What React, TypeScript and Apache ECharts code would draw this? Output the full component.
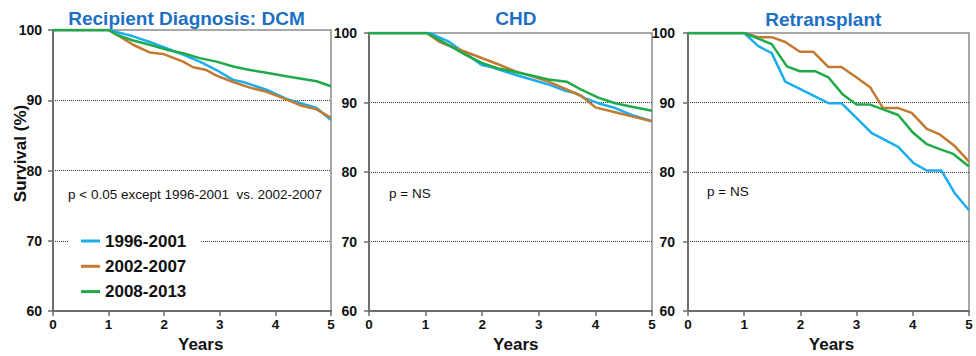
import React, { useEffect, useRef } from "react";
import * as echarts from "echarts";

// ---------- data ----------
const seriesNames = ["1996-2001", "2002-2007", "2008-2013"];
const panelTitles = ["Recipient Diagnosis: DCM", "CHD", "Retransplant"];
const pValueNotes = ["p < 0.05 except 1996-2001  vs. 2002-2007", "p = NS", "p = NS"];
const xTickValues = [0, 1, 2, 3, 4, 5];
const yTickValues = [60, 70, 80, 90, 100];
const xAxisTitle = "Years";
const yAxisTitle = "Survival (%)";

// [years, survival %]
const dcm1996 = [
  [0, 100], [1, 100], [1.44, 99.1], [1.74, 98.3], [2.04, 97.4], [2.34, 96.5], [2.64, 95.5],
  [2.94, 94.3], [3.24, 92.9], [3.42, 92.6], [3.84, 91.5], [4.2, 90.2], [4.44, 89.6],
  [4.74, 88.9], [5, 87.2],
];
const dcm2002 = [
  [0, 100], [1, 100], [1.2, 99.1], [1.44, 97.9], [1.74, 96.8], [1.98, 96.6], [2.34, 95.5],
  [2.52, 94.7], [2.76, 94.3], [2.94, 93.5], [3.24, 92.6], [3.54, 91.8], [3.84, 91.2],
  [4.14, 90.3], [4.44, 89.3], [4.74, 88.7], [5, 87.5],
];
const dcm2008 = [
  [0, 100], [1, 100], [1.15, 99.3], [1.44, 98.5], [1.74, 97.9], [2.04, 97.2], [2.34, 96.7],
  [2.64, 96.0], [2.94, 95.5], [3.24, 94.8], [3.54, 94.3], [3.84, 93.9], [4.14, 93.5],
  [4.44, 93.1], [4.74, 92.7], [5, 92.0],
];

const chd1996 = [
  [0, 100], [1.07, 100], [1.4, 98.8], [1.7, 97.1], [1.99, 95.4], [2.16, 95.1], [2.58, 94.0],
  [2.87, 93.3], [3.17, 92.6], [3.46, 91.7], [3.64, 91.4], [3.82, 90.6], [4.05, 89.9],
  [4.35, 89.2], [4.64, 88.2], [5, 87.3],
];
const chd2002 = [
  [0, 100], [1.02, 100], [1.23, 98.8], [1.4, 98.2], [1.7, 97.3], [1.99, 96.4], [2.28, 95.5],
  [2.58, 94.5], [2.87, 93.8], [3.17, 93.0], [3.46, 92.0], [3.76, 90.9], [4.0, 89.3],
  [4.35, 88.6], [4.64, 88.0], [5, 87.3],
];
const chd2008 = [
  [0, 100], [1.02, 100], [1.4, 98.3], [1.7, 96.9], [1.99, 95.7], [2.28, 94.9], [2.58, 94.4],
  [2.87, 93.9], [3.17, 93.3], [3.49, 93.0], [3.76, 91.8], [4.05, 90.7], [4.35, 89.9],
  [4.64, 89.4], [5, 88.8],
];

const retx1996 = [
  [0, 100], [1, 100], [1.25, 98.1], [1.49, 97.1], [1.73, 93.0], [2.5, 89.9], [2.73, 89.9],
  [3.27, 85.6], [3.74, 83.6], [4.01, 81.3], [4.25, 80.2], [4.51, 80.2], [4.75, 76.9],
  [5, 74.5],
];
const retx2002 = [
  [0, 100], [1, 100], [1.25, 99.4], [1.49, 99.4], [1.73, 98.7], [1.99, 97.3], [2.23, 97.3],
  [2.5, 95.1], [2.73, 95.1], [3.0, 93.6], [3.24, 92.2], [3.47, 89.2], [3.74, 89.2],
  [3.98, 88.5], [4.25, 86.2], [4.48, 85.4], [4.75, 83.7], [5, 81.5],
];
const retx2008 = [
  [0, 100], [1, 100], [1.25, 99.2], [1.49, 98.4], [1.76, 95.2], [1.99, 94.5], [2.26, 94.5],
  [2.5, 93.6], [2.76, 91.1], [3.0, 89.7], [3.24, 89.7], [3.47, 89.0], [3.74, 88.2],
  [4.01, 85.6], [4.25, 84.0], [4.48, 83.3], [4.72, 82.6], [5, 80.8],
];

const panelData = [
  [dcm1996, dcm2002, dcm2008],
  [chd1996, chd2002, chd2008],
  [retx1996, retx2002, retx2008],
];

// ---------- styling / layout ----------
const seriesColors = ["#1AAEEF", "#C27A30", "#1FAA4A"];
const FONT = "'Liberation Sans', Arial, Helvetica, sans-serif";
const grids = [
  { left: 53, top: 30, width: 278, height: 281 },
  { left: 369, top: 33, width: 283, height: 278 },
  { left: 688, top: 33, width: 281, height: 278 },
];
const yLabelMargins = [11, 12, 13];
const titlePos = [
  { x: 186.5, y: 18.5 },
  { x: 515.8, y: 18.5 },
  { x: 823.3, y: 19.3 },
];
const notePos = [
  { x: 68, y: 194 },
  { x: 389, y: 193 },
  { x: 707, y: 191.5 },
];
const yearsPos = [200.7, 515.8, 831.5];

export default function App() {
  const ref = useRef<HTMLDivElement>(null);

  useEffect(() => {
    document.body.style.margin = "0";
    if (!ref.current) return;
    const chart = echarts.init(ref.current, null, { renderer: "svg" });

    const xAxes = grids.map((_, i) => ({
      type: "value",
      gridIndex: i,
      min: xTickValues[0],
      max: xTickValues[xTickValues.length - 1],
      interval: 1,
      axisLine: { show: true, lineStyle: { color: "#6e6e6e", width: 2 } },
      axisTick: { show: true, length: 5, lineStyle: { color: "#6e6e6e", width: 1.5 } },
      axisLabel: {
        color: "#111",
        fontWeight: "bold",
        fontSize: 13.5,
        fontFamily: FONT,
        margin: 6,
      },
      splitLine: { show: false },
    }));

    const yAxes = grids.map((_, i) => ({
      type: "value",
      gridIndex: i,
      min: yTickValues[0],
      max: yTickValues[yTickValues.length - 1],
      interval: 10,
      axisLine: { show: true, lineStyle: { color: "#6e6e6e", width: 2 } },
      axisTick: { show: true, length: 5, lineStyle: { color: "#6e6e6e", width: 1.5 } },
      axisLabel: {
        color: "#111",
        fontWeight: "bold",
        fontSize: 14,
        fontFamily: FONT,
        margin: yLabelMargins[i],
      },
      splitLine: {
        show: true,
        showMinLine: false,
        showMaxLine: false,
        lineStyle: { type: "dotted", color: "#333", width: 1 },
      },
    }));

    const series: any[] = [];
    panelData.forEach((curves, p) => {
      curves.forEach((data, s) => {
        series.push({
          type: "line",
          name: seriesNames[s],
          xAxisIndex: p,
          yAxisIndex: p,
          data,
          symbol: "none",
          showSymbol: false,
          smooth: false,
          lineStyle: { color: seriesColors[s], width: 2.5 },
          itemStyle: { color: seriesColors[s] },
          z: 3 + s,
        });
      });
    });

    const graphics: any[] = [];
    panelTitles.forEach((t, i) => {
      graphics.push({
        type: "text",
        x: titlePos[i].x,
        y: titlePos[i].y,
        style: {
          text: t,
          fill: "#1C6FC5",
          font: `bold 19px ${FONT}`,
          textAlign: "center",
          textVerticalAlign: "middle",
        },
      });
    });
    pValueNotes.forEach((t, i) => {
      graphics.push({
        type: "text",
        x: notePos[i].x,
        y: notePos[i].y,
        style: {
          text: t,
          fill: "#111",
          font: `13.5px ${FONT}`,
          textAlign: "left",
          textVerticalAlign: "middle",
        },
      });
    });
    yearsPos.forEach((x) => {
      graphics.push({
        type: "text",
        x,
        y: 344,
        style: {
          text: xAxisTitle,
          fill: "#111",
          font: `bold 17px ${FONT}`,
          textAlign: "center",
          textVerticalAlign: "middle",
        },
      });
    });
    graphics.push({
      type: "text",
      x: 20,
      y: 153.5,
      rotation: Math.PI / 2,
      style: {
        text: yAxisTitle,
        fill: "#111",
        font: `bold 17px ${FONT}`,
        textAlign: "center",
        textVerticalAlign: "middle",
      },
    });

    chart.setOption({
      animation: false,
      backgroundColor: "#fff",
      grid: grids.map((g) => ({
        ...g,
        show: true,
        borderColor: "#8c8c8c",
        borderWidth: 1.5,
        backgroundColor: "transparent",
      })),
      xAxis: xAxes,
      yAxis: yAxes,
      legend: {
        data: seriesNames,
        orient: "vertical",
        left: 68,
        top: 229.5,
        padding: [2, 15, 2, 13],
        itemGap: 6.3,
        itemWidth: 19,
        itemHeight: 3,
        icon: "rect",
        backgroundColor: "#fff",
        textStyle: {
          color: "#111",
          fontWeight: "bold",
          fontSize: 17,
          fontFamily: FONT,
          lineHeight: 19,
        },
        selectedMode: false,
      },
      graphic: graphics,
      series,
    });

    return () => chart.dispose();
  }, []);

  return <div ref={ref} style={{ width: 976, height: 356 }} />;
}
